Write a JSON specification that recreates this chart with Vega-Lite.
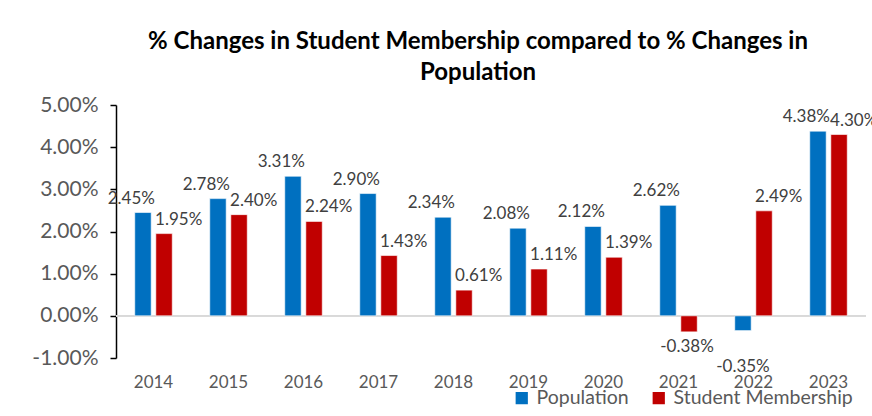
{
  "$schema": "https://vega.github.io/schema/vega-lite/v6.json",
  "width": 750,
  "height": 253,
  "autosize": {"type": "none"},
  "padding": {"left": 116, "top": 105, "right": 6, "bottom": 58},
  "background": "#ffffff",
  "config": {
    "view": {"stroke": null},
    "font": "Lato",
    "locale": {"number": {"decimal": ".", "thousands": ",", "grouping": [3], "currency": ["$", ""], "minus": "-"}}
  },
  "title": {
    "text": ["% Changes in Student Membership compared to % Changes in", "Population"],
    "font": "Lato",
    "fontSize": 24,
    "fontWeight": "bold",
    "color": "#000000",
    "anchor": "middle",
    "dx": -13,
    "offset": 9,
    "lineHeight": 31
  },
  "data": {
    "values": [
      {"year": "2014", "series": "Population", "value": 0.0245},
      {"year": "2014", "series": "Student Membership", "value": 0.0195},
      {"year": "2015", "series": "Population", "value": 0.0278},
      {"year": "2015", "series": "Student Membership", "value": 0.0240},
      {"year": "2016", "series": "Population", "value": 0.0331},
      {"year": "2016", "series": "Student Membership", "value": 0.0224},
      {"year": "2017", "series": "Population", "value": 0.0290},
      {"year": "2017", "series": "Student Membership", "value": 0.0143},
      {"year": "2018", "series": "Population", "value": 0.0234},
      {"year": "2018", "series": "Student Membership", "value": 0.0061},
      {"year": "2019", "series": "Population", "value": 0.0208},
      {"year": "2019", "series": "Student Membership", "value": 0.0111},
      {"year": "2020", "series": "Population", "value": 0.0212},
      {"year": "2020", "series": "Student Membership", "value": 0.0139},
      {"year": "2021", "series": "Population", "value": 0.0262},
      {"year": "2021", "series": "Student Membership", "value": -0.0038},
      {"year": "2022", "series": "Population", "value": -0.0035},
      {"year": "2022", "series": "Student Membership", "value": 0.0249},
      {"year": "2023", "series": "Population", "value": 0.0438},
      {"year": "2023", "series": "Student Membership", "value": 0.0430}
    ]
  },
  "encoding": {
    "x": {
      "field": "year",
      "type": "nominal",
      "scale": {"paddingInner": 0.5, "paddingOuter": 0.25},
      "axis": {
        "title": null,
        "labelAngle": 0,
        "domain": false,
        "ticks": false,
        "labelPadding": 16,
        "labelFont": "Lato",
        "labelFontSize": 17,
        "labelColor": "#595959"
      }
    },
    "xOffset": {"field": "series", "type": "nominal", "scale": {"paddingInner": 0.22}},
    "y": {
      "field": "value",
      "type": "quantitative",
      "scale": {"domain": [-0.01, 0.05], "nice": false, "zero": false},
      "axis": {
        "title": null,
        "format": ".2%",
        "values": [-0.01, 0, 0.01, 0.02, 0.03, 0.04, 0.05],
        "grid": false,
        "domainColor": "#000000",
        "domainWidth": 1.5,
        "tickColor": "#000000",
        "tickSize": 6,
        "tickWidth": 1.5,
        "labelPadding": 12,
        "labelFont": "Lato",
        "labelFontSize": 21,
        "labelColor": "#595959"
      }
    }
  },
  "layer": [
    {
      "mark": {"type": "rule", "color": "#d9d9d9", "strokeWidth": 1.5},
      "encoding": {"y": {"datum": 0}, "x": null, "xOffset": null}
    },
    {
      "mark": {"type": "bar", "stroke": "#ffffff", "strokeWidth": 0.6},
      "encoding": {
        "color": {
          "field": "series",
          "type": "nominal",
          "scale": {"domain": ["Population", "Student Membership"], "range": ["#0070C0", "#C00000"]},
          "legend": {
            "title": null,
            "orient": "none",
            "direction": "horizontal",
            "legendX": 396,
            "legendY": 283,
            "symbolType": "square",
            "symbolSize": 150,
            "symbolStrokeWidth": 0,
            "labelFont": "Lato",
            "labelFontSize": 19.5,
            "labelColor": "#595959",
            "labelLimit": 400,
            "columnPadding": 20,
            "labelOffset": 5
          }
        }
      }
    },
    {
      "transform": [{"filter": "datum.series === 'Population' && datum.value >= 0"}],
      "mark": {"type": "text", "align": "right", "baseline": "bottom", "dx": 12, "dy": -5, "fontSize": 17, "font": "Lato", "color": "#404040"},
      "encoding": {"text": {"field": "value", "format": ".2%"}}
    },
    {
      "transform": [{"filter": "datum.series === 'Student Membership' && datum.value >= 0"}],
      "mark": {"type": "text", "align": "left", "baseline": "bottom", "dx": -9, "dy": -5, "fontSize": 17, "font": "Lato", "color": "#404040"},
      "encoding": {"text": {"field": "value", "format": ".2%"}}
    },
    {
      "transform": [{"filter": "datum.series === 'Student Membership' && datum.value < 0"}],
      "mark": {"type": "text", "align": "center", "baseline": "top", "dx": -2, "dy": 7, "fontSize": 17, "font": "Lato", "color": "#404040"},
      "encoding": {"text": {"field": "value", "format": ".2%"}}
    },
    {
      "transform": [{"filter": "datum.series === 'Population' && datum.value < 0"}],
      "mark": {"type": "text", "align": "center", "baseline": "top", "dy": 28, "fontSize": 17, "font": "Lato", "color": "#404040"},
      "encoding": {"text": {"field": "value", "format": ".2%"}}
    }
  ]
}
